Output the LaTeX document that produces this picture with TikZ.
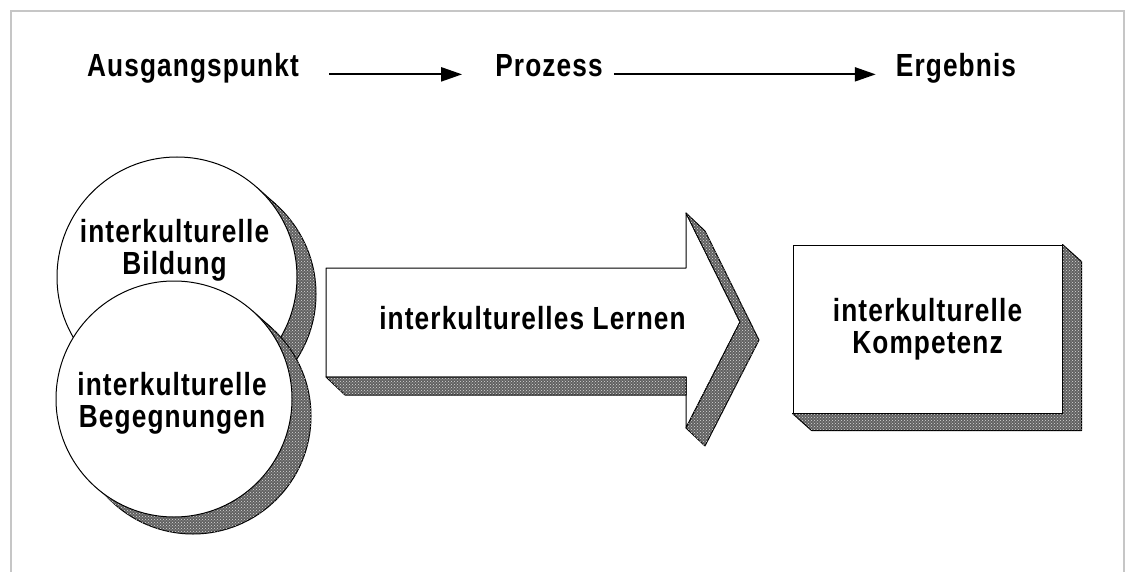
\documentclass[tikz,border=0pt]{standalone}
\usepackage{fontspec}
\setmainfont[FakeStretch=0.82,LetterSpace=3.5]{Liberation Sans}
\usetikzlibrary{arrows.meta,patterns,calc,positioning}

\begin{document}
\begin{tikzpicture}[x=1pt, y=-1pt,
    lbl/.style={font=\fontsize{32}{32}\selectfont\bfseries, inner sep=0pt, align=center},
    head/.style={font=\fontsize{32}{32}\selectfont\bfseries, inner sep=0pt, anchor=base},
    ball/.style={circle, draw, line width=1pt, fill=white, inner sep=0pt},
    face/.style={draw, line width=1pt, fill=white},
    rim/.style={line width=1pt, line join=round},
    relief/.style={fill=black!62, postaction={pattern=crosshatch dots, pattern color=white!85!black}},
    flow/.style={line width=2.2pt, -{Triangle[length=21pt,width=14pt]}}]
    \useasboundingbox (0,0) rectangle (1127,572);

    % Frame
    \draw[gray!45, line width=1.5pt] (11,600) -- (11,11) -- (1124,11) -- (1124,600);

    % Header line
    \node[head] (start) at (193,77) {Ausgangspunkt};
    \node[head] (process) at (549,77) {Prozess};
    \node[head] (result) at (956,77) {Ergebnis};
    \draw[flow, shorten <=30pt, shorten >=33pt] (start.mid east) -- (process.mid west);
    \draw[flow, shorten <=11pt, shorten >=20pt] (process.mid east) -- (result.mid west);

    % Define centres of the circles
    \coordinate (c1) at (177,277);
    \coordinate (c2) at (174,399);

    % Upper circle with its relief
    \filldraw[relief, rim] ([shift={(19,17)}]c1) circle (120);
    \fill[relief] ($(c1)+(-48.2:120)$) -- ++(19,17) -- ($(c1)+(131.8:120)+(19,17)$) -- ($(c1)+(131.8:120)$) -- cycle;
    \draw[rim] ($(c1)+(-48.2:120)$) -- ++(19,17);
    \node[ball, minimum size=240pt] (bildung) at (c1) {};
    \node[lbl] (bildungtext) at (174.5,250) {interkulturelle\\Bildung};

    % Lower circle with its relief
    \filldraw[relief, rim] ([shift={(19,17)}]c2) circle (118);
    \fill[relief] ($(c2)+(-48.2:118)$) -- ++(19,17) -- ($(c2)+(131.8:118)+(19,17)$) -- ($(c2)+(131.8:118)$) -- cycle;
    \draw[rim] ($(c2)+(-48.2:118)$) -- ++(19,17);
    \node[ball, minimum size=236pt] (begegnung) at (c2) {};
    \node[lbl] (begegnungtext) at (172,403) {interkulturelle\\Begegnungen};

    % Define points of the big arrow
    \coordinate (tt) at (326,268);
    \coordinate (tb) at (326,377);
    \coordinate (nt) at (686,268);
    \coordinate (nb) at (686,377);
    \coordinate (bt) at (686,213);
    \coordinate (bb) at (686,428);
    \coordinate (tip) at (740,322);

    % Big arrow with its relief
    \filldraw[face, rim] (tt) -- (nt) -- (bt) -- (tip) -- (bb) -- (nb) -- (tb) -- cycle;
    \filldraw[relief, rim] (tb) -- ++(19,18) -- ($(nb)+(0,18)$) -- (nb) -- cycle;
    \filldraw[relief, rim] (bt) -- ++(19,18) -- ($(tip)+(19,18)$) -- ($(bb)+(19,18)$) -- (bb) -- (tip) -- cycle;
    \node[lbl] (lernen) at (532.5,318) {interkulturelles Lernen};

    % Result box with its relief
    \node[face, lbl, minimum width=269pt, minimum height=168pt] (kompetenz) at (927.5,329) {interkulturelle\\Kompetenz};
    \filldraw[relief, rim] (kompetenz.north east) -- ++(19,17) -- ([shift={(19,17)}]kompetenz.south east)
        -- ([shift={(19,17)}]kompetenz.south west) -- (kompetenz.south west) -- (kompetenz.south east) -- cycle;
\end{tikzpicture}
\end{document}
